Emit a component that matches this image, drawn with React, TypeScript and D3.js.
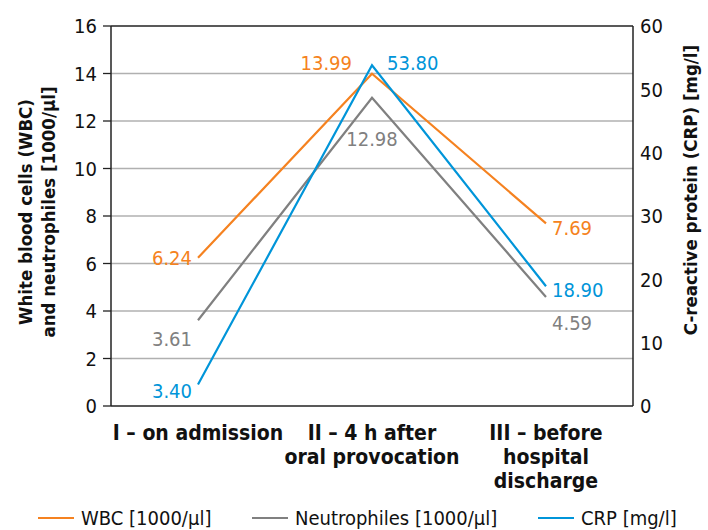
import React from "react";
import * as d3 from "d3";

const categories = ["I – on admission", "II – 4 h after\noral provocation", "III – before\nhospital\ndischarge"];
const wbc = [6.24, 13.99, 7.69];
const neut = [3.61, 12.98, 4.59];
const crp = [3.4, 53.8, 18.9];
const leftTicks = [0, 2, 4, 6, 8, 10, 12, 14, 16];
const rightTicks = [0, 10, 20, 30, 40, 50, 60];

const ORANGE = "#f58220";
const GRAY = "#808080";
const BLUE = "#0095d9";
const FONT = "'Liberation Sans Narrow', 'DejaVu Sans Condensed', sans-serif";

export default function App() {
  const W = 708, H = 530;
  const left = 111, right = 633, top = 26, bottom = 406;
  const x = d3.scaleBand<number>().domain([0, 1, 2]).range([left, right]);
  const cx = (i: number) => (x(i) as number) + x.bandwidth() / 2;
  const yL = d3.scaleLinear().domain([0, 16]).range([bottom, top]);
  const yR = d3.scaleLinear().domain([0, 60]).range([bottom, top]);
  const lineL = d3.line<number>().x((_, i) => cx(i)).y((d) => yL(d));
  const lineR = d3.line<number>().x((_, i) => cx(i)).y((d) => yR(d));

  const fmt = (v: number) => v.toFixed(2);
  const fs = 20;
  const tfs = 18.5;

  // label placement: [dx, dy, anchor]
  const wbcPos: [number, number, string][] = [[-6, 0, "end"], [-20, -11, "end"], [6, 4, "start"]];
  const neutPos: [number, number, string][] = [[-6, 19, "end"], [0, 41, "middle"], [6, 26, "start"]];
  const crpPos: [number, number, string][] = [[-6, 6, "end"], [15, -2, "start"], [6, 3, "start"]];

  return (
    <svg width={W} height={H} style={{ position: "absolute", left: 0, top: 0 }} fontFamily={FONT}>
      <rect width={W} height={H} fill="#fff" />
      {leftTicks.map((t) => (
        <line key={t} x1={left} x2={right} y1={yL(t)} y2={yL(t)} stroke={t === 16 || t === 0 ? "#222" : "#b0b0b0"} strokeWidth={1.3} />
      ))}
      {leftTicks.map((t) => (
        <line key={"tk" + t} x1={left - 8} x2={left} y1={yL(t)} y2={yL(t)} stroke="#222" strokeWidth={1.3} />
      ))}
      <line x1={left} x2={left} y1={top} y2={bottom} stroke="#222" strokeWidth={1.5} />
      <line x1={right} x2={right} y1={top} y2={bottom} stroke="#222" strokeWidth={1.5} />
      {leftTicks.map((t) => (
        <text key={"l" + t} x={left - 14} y={yL(t)} dy="0.36em" textAnchor="end" fontSize={fs} fill="#111">{t}</text>
      ))}
      {rightTicks.map((t) => (
        <text key={"r" + t} x={right + 7} y={yR(t)} dy="0.36em" textAnchor="start" fontSize={fs} fill="#111">{t}</text>
      ))}
      <text transform={`translate(32,212) rotate(-90)`} textAnchor="middle" fontSize={tfs} fontWeight="bold" fill="#111">
        <tspan x={0} dy={0}>White blood cells (WBC)</tspan>
        <tspan x={0} dy={23}>and neutrophiles [1000/μl]</tspan>
      </text>
      <text transform={`translate(697,190) rotate(-90)`} textAnchor="middle" fontSize={tfs} fontWeight="bold" fill="#111">
        C-reactive protein (CRP) [mg/l]
      </text>
      {categories.map((c, i) => (
        <text key={c} x={cx(i)} y={440} textAnchor="middle" fontSize={21} fontWeight="bold" fill="#111">
          {c.split("\n").map((s, j) => (
            <tspan key={j} x={cx(i)} dy={j === 0 ? 0 : 24}>{s}</tspan>
          ))}
        </text>
      ))}
      <path d={lineL(wbc) as string} fill="none" stroke={ORANGE} strokeWidth={2.2} />
      <path d={lineL(neut) as string} fill="none" stroke={GRAY} strokeWidth={2.2} />
      <path d={lineR(crp) as string} fill="none" stroke={BLUE} strokeWidth={2.2} />
      {wbc.map((v, i) => (
        <text key={"w" + i} x={cx(i) + wbcPos[i][0]} y={yL(v) + wbcPos[i][1]} dy="0.36em" textAnchor={wbcPos[i][2]} fontSize={fs} fill={ORANGE}>{fmt(v)}</text>
      ))}
      {neut.map((v, i) => (
        <text key={"n" + i} x={cx(i) + neutPos[i][0]} y={yL(v) + neutPos[i][1]} dy="0.36em" textAnchor={neutPos[i][2]} fontSize={fs} fill={GRAY}>{fmt(v)}</text>
      ))}
      {crp.map((v, i) => (
        <text key={"c" + i} x={cx(i) + crpPos[i][0]} y={yR(v) + crpPos[i][1]} dy="0.36em" textAnchor={crpPos[i][2]} fontSize={fs} fill={BLUE}>{fmt(v)}</text>
      ))}
      {[
        { label: "WBC [1000/μl]", color: ORANGE, x0: 38 },
        { label: "Neutrophiles [1000/μl]", color: GRAY, x0: 252 },
        { label: "CRP [mg/l]", color: BLUE, x0: 538 },
      ].map((l) => (
        <g key={l.label}>
          <line x1={l.x0} x2={l.x0 + 36} y1={518} y2={518} stroke={l.color} strokeWidth={2.2} />
          <text x={l.x0 + 43} y={518} dy="0.36em" fontSize={fs} fill="#111">{l.label}</text>
        </g>
      ))}
    </svg>
  );
}
